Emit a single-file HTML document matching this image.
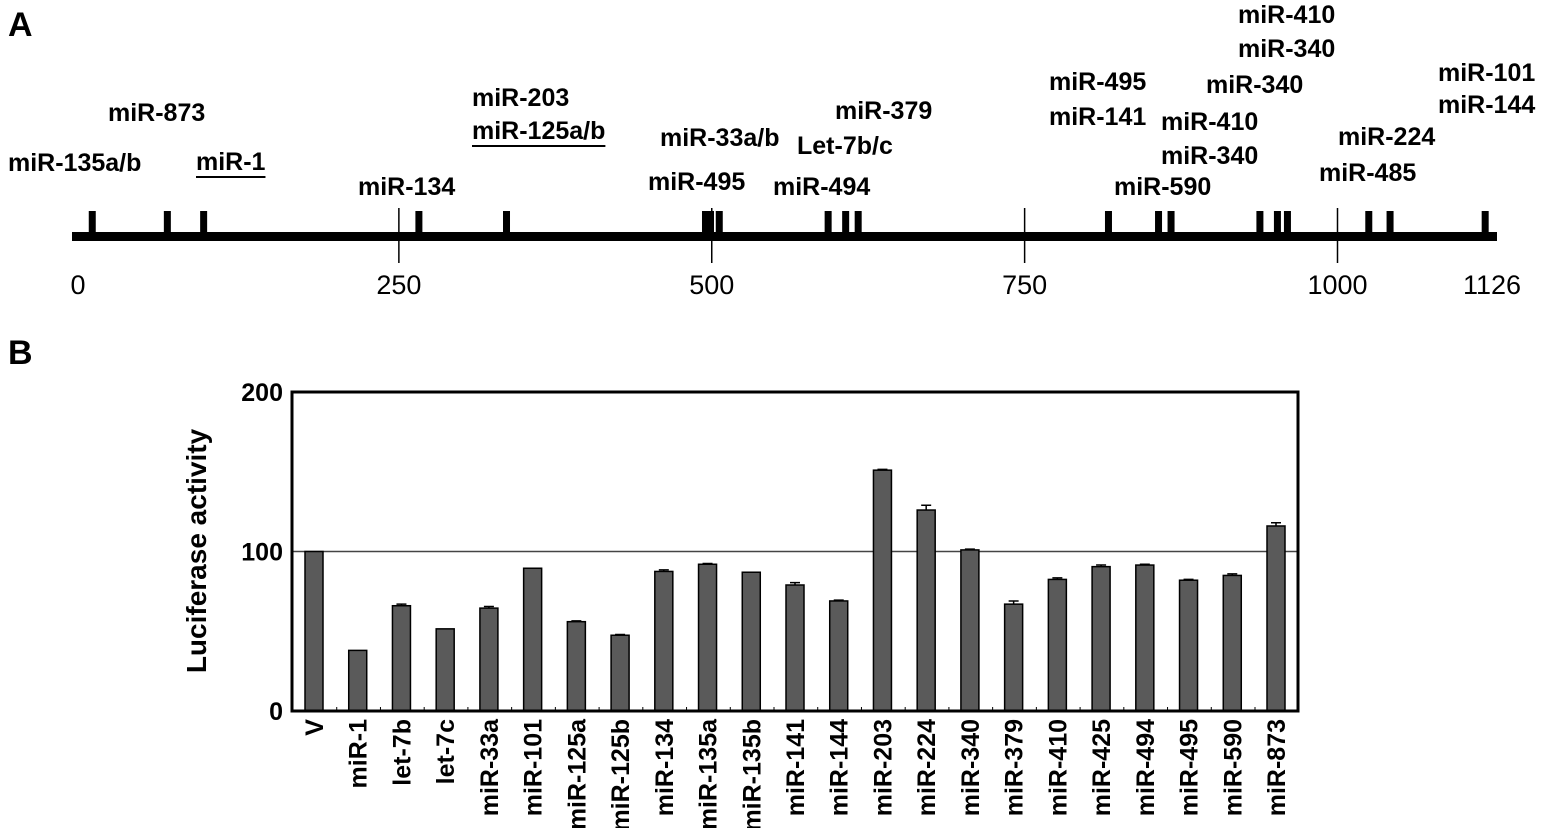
<!DOCTYPE html>
<html><head><meta charset="utf-8"><style>
html,body{margin:0;padding:0;background:#fff;}
svg{display:block;font-family:"Liberation Sans",Arial,sans-serif;}
</style></head><body>
<svg id="fig" width="1544" height="828" viewBox="0 0 1544 828">
<text x="8" y="36" font-size="34" font-weight="bold">A</text>
<text x="8" y="364" font-size="34" font-weight="bold">B</text>
<g id="panelA"></g>
<g id="panelB"></g>
</svg>
<script>
const NS="http://www.w3.org/2000/svg";
function mk(tag,attrs,parent,text){const e=document.createElementNS(NS,tag);for(const k in attrs)e.setAttribute(k,attrs[k]);if(text!==undefined)e.textContent=text;parent.appendChild(e);return e;}

// ---------- Panel A data ----------
const mapTicks=[0,250,500,750,1000,1126];
const sitePositions=[5,65,94,266,336,495,499,506,593,607,617,817,857,867,938,952,960,1025,1042,1118];
const siteLabels=[
 ["miR-135a/b",8,171,false],["miR-873",108,121,false],["miR-1",196,170,true],
 ["miR-134",358,195,false],["miR-203",472,106,false],["miR-125a/b",472,139,true],
 ["miR-33a/b",660,146,false],["miR-495",648,190,false],["miR-379",835,119,false],
 ["Let-7b/c",797,154,false],["miR-494",773,195,false],["miR-495",1049,90,false],
 ["miR-141",1049,125,false],["miR-410",1161,130,false],["miR-340",1161,164,false],
 ["miR-590",1114,195,false],["miR-410",1238,23,false],["miR-340",1238,57,false],
 ["miR-340",1206,93,false],["miR-224",1338,145,false],["miR-485",1319,181,false],
 ["miR-101",1438,81,false],["miR-144",1438,113,false]];
const A=document.getElementById('panelA');
const mx=v=>86+v*1.2515;
const lineY=236;
const axisLine=mk('rect',{x:72,y:lineY-4,width:1425,height:9,fill:'#000'},A);


mapTicks.forEach((t,i)=>{
  if(i>0&&i<mapTicks.length-1){
    const l=mk('line',{x1:mx(t),x2:mx(t),y1:208,y2:263,stroke:'#000','stroke-width':1.5},A);
    
    
  }
  const tx=i===0?78:(i===mapTicks.length-1?1492:mx(t));
  const lb=mk('text',{x:tx,y:294,'font-size':27,'text-anchor':'middle'},A,String(t));
  
  
});
sitePositions.forEach(p=>{
  const r=mk('rect',{x:mx(p)-3.5,y:211,width:7,height:25,fill:'#000'},A);
  
  
});
siteLabels.forEach(s=>{
  const t=mk('text',{x:s[1],y:s[2],'font-size':25,'font-weight':'bold'},A,s[0]);
  
  
  if(s[3]){const w=t.getComputedTextLength();const u=mk('line',{x1:s[1],x2:s[1]+w,y1:s[2]+7,y2:s[2]+7,stroke:'#000','stroke-width':2},A);
    
    }
});

// ---------- Panel B data ----------
const categories=["V","miR-1","let-7b","let-7c","miR-33a","miR-101","miR-125a","miR-125b","miR-134","miR-135a","miR-135b","miR-141","miR-144","miR-203","miR-224","miR-340","miR-379","miR-410","miR-425","miR-494","miR-495","miR-590","miR-873"];
const values=[100,38,66,51.5,64.5,89.5,56,47.5,87.5,92,87,79,69,151,126,101,67,82.5,90.5,91.5,82,85,116];
const errors=[0,0,1,0,1,0,0.5,0.5,1,0.5,0,1.5,0.5,0.5,3,0.5,2,1,1,0.5,0.5,1,2];
const yTicks=[0,100,200];
const B=document.getElementById('panelB');
const L=292,R=1298,T=392,Bt=711;
const n=categories.length;
const bx=i=>314+i*((1276-314)/(n-1));
const y=v=>Bt-(v/200)*(Bt-T);
const ref=mk('line',{x1:L,x2:R,y1:y(100),y2:y(100),stroke:'#444','stroke-width':1.5},B);


categories.forEach((c,i)=>{
  const cx=bx(i);
  const e=errors[i];
  if(e>0){
    const g=mk('path',{d:`M${cx} ${y(values[i])} V${y(values[i]+e)} M${cx-5} ${y(values[i]+e)} H${cx+5}`,stroke:'#000','stroke-width':1.5,fill:'none'},B);
    
    
  }
  const r=mk('rect',{x:cx-9,y:y(values[i]),width:18,height:Bt-y(values[i]),fill:'#5a5a5a',stroke:'#000','stroke-width':1.5},B);
  
  
  if(i>0){const tk=mk('line',{x1:cx-21,x2:cx-21,y1:Bt-4,y2:Bt,stroke:'#000','stroke-width':1},B);
    
    }
  const t=mk('text',{transform:`translate(${cx+9},${719}) rotate(-90)`,'font-size':25,'font-weight':'bold','text-anchor':'end'},B,c);
  
  
});
const frame=mk('rect',{x:L,y:T,width:R-L,height:Bt-T,fill:'none',stroke:'#000','stroke-width':3},B);


yTicks.forEach(v=>{
  const t=mk('text',{x:283,y:y(v)+9,'font-size':25,'font-weight':'bold','text-anchor':'end'},B,String(v));
  
  
});
const yt=mk('text',{transform:'translate(206,551) rotate(-90)','font-size':28,'font-weight':'bold','text-anchor':'middle'},B,'Luciferase activity');


</script>
</body></html>
